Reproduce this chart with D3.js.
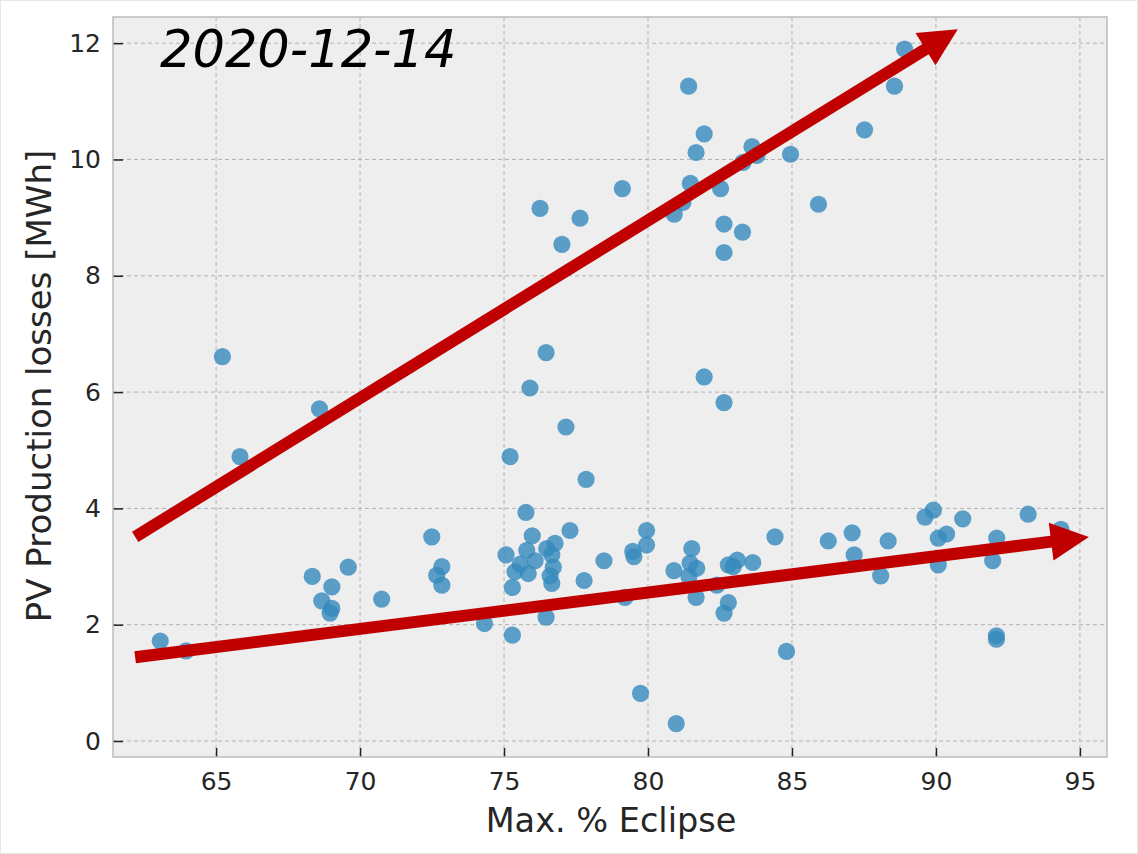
<!DOCTYPE html>
<html>
<head>
<meta charset="utf-8">
<script src="https://cdn.jsdelivr.net/npm/d3@7"></script>
<style>
  body { margin: 0; background: #fff; }
  svg { display: block; }
</style>
</head>
<body>
<svg id="chart" width="1138" height="854"></svg>
<script>
// Max. % eclipse per site
const eclipse = [
  88.91, 81.41, 88.56, 87.52, 81.95, 81.67, 83.61, 83.78, 83.30, 84.95,
  81.47, 82.52, 79.11, 81.21, 80.91, 85.92, 76.25, 77.64, 77.01, 82.64,
  83.28, 82.64, 65.22, 76.46, 81.95, 75.90, 68.59, 82.64, 65.83, 77.15,
  75.21, 77.85,
  75.76, 72.49, 77.29, 75.98, 75.07, 75.79, 76.77, 76.48, 76.66, 78.47,
  76.08, 75.56, 76.71, 75.38, 75.84, 76.60, 76.66, 77.78, 75.29, 79.95,
  79.95, 79.47, 79.51, 84.41, 81.52, 81.46, 81.69, 80.90, 81.42, 82.79,
  83.10, 82.96, 83.64, 82.39, 79.20, 81.67, 82.79, 82.64, 84.81, 79.74,
  80.98, 69.59, 72.84, 72.66, 72.84, 68.34, 69.02, 68.67, 69.02, 68.96,
  70.75, 76.46, 74.32, 75.29, 63.06, 63.96, 86.26, 87.09, 87.16, 88.08,
  88.34, 89.62, 89.91, 90.93, 90.08, 90.37, 90.08, 92.11, 91.97, 93.20,
  94.34, 92.10, 92.10
];
// PV production losses [MWh] per site
const losses = [
  11.90, 11.26, 11.26, 10.51, 10.44, 10.12, 10.22, 10.07, 9.95, 10.09,
  9.59, 9.50, 9.50, 9.26, 9.06, 9.23, 9.16, 8.99, 8.54, 8.89,
  8.75, 8.40, 6.61, 6.68, 6.26, 6.07, 5.71, 5.82, 4.89, 5.40,
  4.89, 4.50,
  3.93, 3.51, 3.62, 3.53, 3.20, 3.28, 3.40, 3.31, 3.20, 3.10,
  3.10, 3.04, 2.99, 2.91, 2.88, 2.84, 2.71, 2.76, 2.64, 3.62,
  3.37, 3.26, 3.17, 3.51, 3.31, 3.06, 2.97, 2.93, 2.83, 3.03,
  3.11, 3.00, 3.07, 2.68, 2.47, 2.47, 2.38, 2.20, 1.54, 0.82,
  0.30, 2.99, 3.00, 2.85, 2.68, 2.83, 2.65, 2.41, 2.28, 2.20,
  2.44, 2.13, 2.02, 1.82, 1.72, 1.55, 3.44, 3.58, 3.20, 2.84,
  3.44, 3.85, 3.97, 3.82, 3.49, 3.56, 3.03, 3.49, 3.10, 3.90,
  3.64, 1.81, 1.75
];
const xTicks = [65, 70, 75, 80, 85, 90, 95];
const yTicks = [0, 2, 4, 6, 8, 10, 12];
// trend arrows drawn on top, [start, tip] in data units
const upperArrow = [[62.19, 3.51], [90.76, 12.24]];
const lowerArrow = [[62.19, 1.44], [95.31, 3.51]];
const dateLabel = '2020-12-14';

const margin = {left: 113, top: 17, right: 31, bottom: 97};
const W = 1138, H = 854;
const w = W - margin.left - margin.right;
const h = H - margin.top - margin.bottom;

const svg = d3.select('#chart');
svg.append('rect').attr('x', 0.5).attr('y', 0.5).attr('width', W - 1).attr('height', H - 1)
  .attr('fill', '#fff').attr('stroke', '#e6e6e6');

const g = svg.append('g').attr('transform', `translate(${margin.left},${margin.top})`);

const x = d3.scaleLinear().domain([61.42, 95.94]).range([0, w]);
const y = d3.scaleLinear().domain([-0.275, 12.45]).range([h, 0]);

g.append('rect').attr('width', w).attr('height', h).attr('fill', '#eeeeee');

// grid
g.append('g').selectAll('line').data(xTicks).join('line')
  .attr('x1', d => x(d)).attr('x2', d => x(d)).attr('y1', 0).attr('y2', h)
  .attr('stroke', '#b2b2b2').attr('stroke-width', 1).attr('stroke-dasharray', '4,3');
g.append('g').selectAll('line').data(yTicks).join('line')
  .attr('y1', d => y(d)).attr('y2', d => y(d)).attr('x1', 0).attr('x2', w)
  .attr('stroke', '#b2b2b2').attr('stroke-width', 1).attr('stroke-dasharray', '4,3');

// axes, ticks pointing inward
const xAxis = g.append('g').attr('transform', `translate(0,${h})`)
  .call(d3.axisBottom(x).tickValues(xTicks).tickSize(-9).tickPadding(15).tickFormat(d3.format('d')));
const yAxis = g.append('g')
  .call(d3.axisLeft(y).tickValues(yTicks).tickSize(-10).tickPadding(12).tickFormat(d3.format('d')));
[xAxis, yAxis].forEach(a => {
  a.select('.domain').remove();
  a.selectAll('.tick line').attr('stroke', '#222').attr('stroke-width', 1.5);
  a.selectAll('.tick text').attr('fill', '#262626')
    .style('font-family', 'DejaVu Sans').style('font-size', '25px');
});

g.append('rect').attr('width', w).attr('height', h).attr('fill', 'none')
  .attr('stroke', '#bcbcbc').attr('stroke-width', 1.5);

// points
g.append('g').selectAll('circle').data(eclipse).join('circle')
  .attr('cx', d => x(d)).attr('cy', (d, i) => y(losses[i]))
  .attr('r', 8.6).attr('fill', '#348ABD').attr('fill-opacity', 0.8);

// axis labels
svg.append('text').attr('x', margin.left + w / 2 + 1).attr('y', 832)
  .attr('text-anchor', 'middle').attr('fill', '#262626')
  .style('font-family', 'DejaVu Sans').style('font-size', '33.5px')
  .text('Max. % Eclipse');
svg.append('text').attr('transform', 'translate(51,386) rotate(-90)')
  .attr('text-anchor', 'middle').attr('fill', '#262626')
  .style('font-family', 'DejaVu Sans').style('font-size', '34px')
  .text('PV Production losses [MWh]');

// arrows
function arrow(pts) {
  const [p0, p1] = pts.map(p => [x(p[0]), y(p[1])]);
  const dx = p1[0] - p0[0], dy = p1[1] - p0[1];
  const len = Math.hypot(dx, dy);
  const ux = dx / len, uy = dy / len;
  const head = 38, half = 19;
  const bx = p1[0] - ux * head, by = p1[1] - uy * head;
  g.append('line').attr('x1', p0[0]).attr('y1', p0[1]).attr('x2', bx + ux * 2).attr('y2', by + uy * 2)
    .attr('stroke', '#c00000').attr('stroke-width', 12);
  g.append('path')
    .attr('d', d3.line()([[p1[0], p1[1]], [bx - uy * half, by + ux * half], [bx + uy * half, by - ux * half]]) + 'Z')
    .attr('fill', '#c00000');
}
arrow(upperArrow);
arrow(lowerArrow);

svg.append('text').attr('x', 160).attr('y', 67)
  .attr('fill', '#000').style('font-family', 'DejaVu Sans').style('font-style', 'italic')
  .style('font-size', '51px').text(dateLabel);
</script>
</body>
</html>
